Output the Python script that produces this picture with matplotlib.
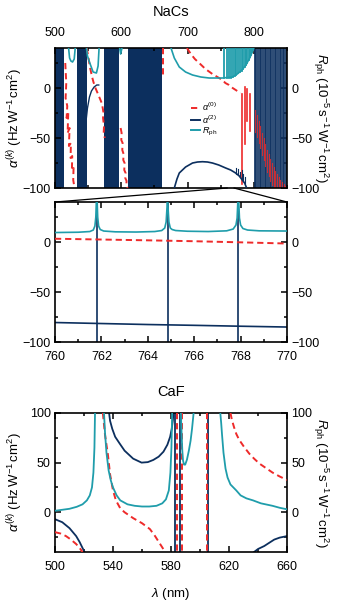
import matplotlib
matplotlib.use("Agg")
import matplotlib.pyplot as plt
from matplotlib.patches import ConnectionPatch
from matplotlib.ticker import MultipleLocator
from matplotlib.lines import Line2D

plt.rcParams["font.family"] = ["Liberation Sans", "DejaVu Sans"]
plt.rcParams["mathtext.fontset"] = "custom"
plt.rcParams["mathtext.rm"] = "Liberation Sans"
plt.rcParams["mathtext.it"] = "Liberation Sans:italic"
plt.rcParams["mathtext.bf"] = "Liberation Sans:bold"
plt.rcParams["axes.unicode_minus"] = True

RED = "#ee2a2a"
NAVY = "#0c2f5e"
TEAL = "#1f9dab"
DASH = (3.2, 2.0)

# ---------------- NaCs overview, 500-850 nm ----------------
nacs_a2_blocks = [(500, 513), (533, 548), (574, 597), (610, 662)]
nacs_a2_arc_x = [547, 549, 552, 555, 559, 563, 566]
nacs_a2_arc_y = [-32, -20, -9, -3, 1, 3, 3]
nacs_a2_low_x = [680, 684, 687.5, 697, 707.5, 715, 722.5, 730, 737.5, 747, 757.5, 765, 772.5, 778, 782.5, 786, 788.5]
nacs_a2_low_y = [-100, -91, -85, -79, -75, -74, -73.7, -74, -75, -77, -80, -82, -85, -88, -92, -95, -99]
nacs_a2_spike_x = [773.6, 776.3, 778.9, 781.4, 783.8, 786.1]
nacs_a2_spike_base = [-85.5, -87, -89, -91, -93, -95]
nacs_a2_spike_top = [-80, -81, -84, -82, -86, -89]
nacs_stripes = [801.2, 803.7, 806.2, 808.7, 811.2, 813.7, 816.2, 818.7, 821.2, 823.7,
                826.2, 828.7, 831.2, 833.7, 836.2, 838.7, 841.2, 843.7, 846.2, 848.7]

nacs_a0_g1_x = [515.5, 517, 516, 518.5, 517.5, 520, 519, 522, 521, 524, 523.5, 526, 525.5, 528, 527.5, 529.5]
nacs_a0_g1_y = [25, 5, -10, -18, -30, -25, -45, -40, -58, -55, -70, -68, -82, -80, -92, -100]
nacs_a0_g2_x = [548, 551, 553, 556, 558, 561, 565.5, 568, 570.5, 572, 573, 572.5, 574, 573.5, 575]
nacs_a0_g2_y = [40, 28, 20, 11, 6, 0, -7, -11, -15, -20, -24, -30, -38, -44, -50]
nacs_a0_g3_x = [599, 600.5, 600, 602, 601.5, 603.5, 603, 605, 604.5, 606.5, 606, 608, 607.5, 609.5]
nacs_a0_g3_y = [-40, -45, -52, -55, -62, -66, -72, -75, -82, -85, -90, -93, -97, -100]
nacs_a0_662_x = [662.5, 662.5]
nacs_a0_662_y = [40, 12]
nacs_a0_x = [699, 705, 711, 717.5, 727, 737.5, 745, 752.5, 757, 762.5, 768, 775, 780]
nacs_a0_y = [40, 34, 29, 25, 19, 14, 11, 8, 5, 3, 0, -3, -5]
nacs_a0_spike_x = [782.5, 786, 790, 794]
nacs_a0_spike_top = [-6, 1, -1, -6]
nacs_a0_spike_bot = [-96, -56, -33, -43]
nacs_a0_gap_x = [802.4, 804.9, 807.4, 809.9, 812.4, 814.9, 817.4, 819.9, 822.4, 824.9,
                 827.4, 829.9, 832.4, 834.9, 837.4, 839.9, 842.4, 844.9, 847.4]
nacs_a0_gap_top = [-22, -27, -33, -38, -45, -50, -56, -62, -66, -71, -75, -79, -83, -86, -89, -92, -94, -96, -98]

nacs_rph_g1_x = [520.5, 522, 524, 526.5, 529, 530.5]
nacs_rph_g1_y = [40, 30, 27, 26, 29, 40]
nacs_rph_g2_x = [547.5, 549, 552.5, 557.5, 562.5, 565, 566.5]
nacs_rph_g2_y = [40, 32, 25, 16, 15, 22, 40]
nacs_rph_g3_x = [597.5, 599, 601]
nacs_rph_g3_y = [40, 34, 40]
nacs_rph_x = [675, 680, 687.5, 697, 707.5, 720, 732.5, 745, 752.5, 760, 767.5, 775, 782, 788, 793, 797, 800]
nacs_rph_y = [40, 30, 21, 16, 13, 11, 10, 10, 10, 10.5, 11, 14, 18, 23, 29, 35, 40]
nacs_rph_spike_x = [755.7, 758.8, 761.8, 764.85, 767.9, 770.8, 773.6, 776.3, 778.9, 781.4,
                    783.8, 786.1, 788.3, 790.4, 792.4, 794.3, 796.1, 797.8, 799.4]
nacs_rph_spike_base = [10, 10.5, 10.5, 10.5, 11, 12, 13, 15, 16, 17,
                       19, 21, 23, 25, 28, 31, 33, 36, 38]

# ---------------- NaCs zoom, 760-770 nm ----------------
zoom_res = [761.8, 764.85, 767.9]
zoom_a0_x = [760, 762, 764, 766, 768, 770]
zoom_a0_y = [3.3, 2.5, 1.7, 0.8, -0.3, -1.5]
zoom_a2_x = [760, 762, 764, 766, 768, 770]
zoom_a2_y = [-80.5, -81.5, -82.5, -83.3, -84.2, -85]
zoom_rph_x = [760, 761.0, 761.5, 761.65, 761.72, 761.76, 761.79, 761.8, 761.81, 761.84, 761.88, 761.95, 762.1, 762.6,
              763.5, 764.3, 764.6, 764.73, 764.79, 764.83, 764.85, 764.87, 764.91, 764.97, 765.05, 765.2, 765.7,
              766.6, 767.4, 767.68, 767.8, 767.85, 767.88, 767.9, 767.92, 767.95, 768.0, 768.1, 768.3, 768.8, 770]
zoom_rph_y = [9.5, 9.8, 10.5, 12, 16, 25, 45, 60, 45, 25, 16, 12.5, 11, 10.2,
              10.0, 10.5, 11.5, 14, 20, 35, 60, 35, 20, 14, 12.5, 11.5, 10.8,
              10.5, 11.2, 13, 17, 24, 40, 60, 40, 24, 17, 13.5, 12, 11.2, 11]

# ---------------- CaF, 500-660 nm ----------------
caf_rph_a_x = [500, 505, 510, 515, 519, 522, 524, 525.5, 526.5, 527.2, 527.6]
caf_rph_a_y = [1.5, 2.5, 3.5, 5.5, 8, 12, 17, 25, 40, 65, 100]
caf_rph_b_x = [533.8, 534.5, 535.5, 537, 538.5, 540, 542.5, 545, 550, 555, 560, 565, 570, 574, 576.5, 578.5, 579.6, 580.3, 580.8]
caf_rph_b_y = [100, 80, 60, 42, 32, 25, 17, 12, 8, 6.5, 5.8, 5.8, 6.5, 9, 13, 22, 40, 65, 100]
caf_rph_c_x = [586.8, 587.3, 587.8, 588.3, 589, 589.8, 591, 592.3, 593.5, 594.5, 595.6]
caf_rph_c_y = [100, 80, 62, 52, 48, 48, 53, 62, 72, 84, 100]
caf_rph_d_x = [614, 614.6, 615.2, 616.2, 617.6, 619, 621, 625, 628, 632, 636.5, 642, 650, 655, 660]
caf_rph_d_y = [100, 90, 78, 60, 44, 35, 28, 22, 17, 14, 12, 9, 6.5, 4.5, 3]

caf_a2_a_x = [500, 505, 510, 514.6, 517, 519, 520.4]
caf_a2_a_y = [-7, -10, -16, -24, -30, -36, -40]
caf_a2_b_x = [537.3, 538, 539.5, 541.5, 544.7, 548, 553.9, 559.7, 564, 567.8, 571.5, 574.8, 577.5, 579.4, 580.5, 581.3, 581.7]
caf_a2_b_y = [100, 92, 84, 76, 69, 62, 54, 50, 50.5, 52.7, 56, 61, 68, 76, 84, 93, 100]
caf_a2_c_x = [637.3, 640, 644.3, 648, 651.2, 655, 660]
caf_a2_c_y = [-40, -37, -34, -30.5, -27.5, -25.5, -24]
caf_a2_res = [582.8, 586.3, 605.2]

caf_a0_a_x = [500, 504, 507.6, 511, 514.6, 517, 519]
caf_a0_a_y = [-20, -21.5, -24, -27.5, -32, -36, -40]
caf_a0_b_x = [533, 534.5, 536.5, 538, 540, 542, 545, 548, 554, 560, 565.5, 569, 572.5, 576]
caf_a0_b_y = [100, 78, 58, 38, 22, 12, 4, 0, -6, -11, -17, -24, -32, -40]
caf_a0_c_x = [621, 622, 623.4, 625, 627, 630.3, 634, 637.3, 641, 646, 650, 655, 660]
caf_a0_c_y = [100, 93, 86, 79, 73, 66, 59, 54, 49, 44, 40, 36, 32.5]
caf_a0_res = [584.0, 587.4, 604.6]
caf_xticks = [500, 540, 580, 620, 660]

fig = plt.figure(figsize=(3.42, 6.10), dpi=100)
ax1 = fig.add_axes([0.1608, 0.6918, 0.6784, 0.2295])
ax2 = fig.add_axes([0.1608, 0.4393, 0.6784, 0.2295])
ax3 = fig.add_axes([0.1608, 0.0951, 0.6784, 0.2279])


def red(ax, x, y, **kw):
    ax.plot(x, y, color=RED, lw=1.4, dashes=DASH, **kw)


def style(ax, xmaj, xmin, ymaj, ymin):
    ax.xaxis.set_major_locator(MultipleLocator(xmaj))
    ax.xaxis.set_minor_locator(MultipleLocator(xmin))
    ax.yaxis.set_major_locator(MultipleLocator(ymaj))
    ax.yaxis.set_minor_locator(MultipleLocator(ymin))
    ax.tick_params(which="both", direction="in", top=True, right=True, labelsize=9, width=1.1)
    ax.tick_params(which="major", length=4)
    ax.tick_params(which="minor", length=2.5)
    ax.tick_params(axis="x", pad=6.5)
    ax.tick_params(axis="y", pad=3, labelright=True)
    for s in ax.spines.values():
        s.set_linewidth(1.2)


ylab_l = r"$\alpha^{(k)}$ (Hz$\,$W$^{-1}\,$cm$^2$)"
ylab_r = r"$R_{\rm ph}$ (10$^{-5}\,$s$^{-1}\,$W$^{-1}\,$cm$^2$)"


def labels(ax):
    ax.set_ylabel(ylab_l, fontsize=9.5)
    ax.yaxis.set_label_coords(-0.13, 0.5)
    ax.text(1.145, 0.5, ylab_r, transform=ax.transAxes, rotation=270,
            ha="center", va="center", fontsize=9.5)


# ---- panel 1 ----
for a, b in nacs_a2_blocks:
    ax1.axvspan(a, b, color=NAVY, lw=0, zorder=1)
ax1.axvspan(800, 850, color="#b9c9de", lw=0, zorder=0.5)
ax1.vlines(nacs_stripes, -100, 40, color=NAVY, lw=1.15, zorder=2)
for x, top in zip(nacs_a0_gap_x, nacs_a0_gap_top):
    ax1.plot([x, x], [top, max(top - 22, -100)], color=RED, lw=0.8, alpha=0.8, zorder=2.5)

red(ax1, nacs_a0_g1_x, nacs_a0_g1_y, zorder=3)
red(ax1, nacs_a0_g2_x, nacs_a0_g2_y, zorder=3)
red(ax1, nacs_a0_g3_x, nacs_a0_g3_y, zorder=3)
red(ax1, nacs_a0_662_x, nacs_a0_662_y, zorder=3)
red(ax1, nacs_a0_x, nacs_a0_y, zorder=3)
for x, t, b in zip(nacs_a0_spike_x, nacs_a0_spike_top, nacs_a0_spike_bot):
    ax1.plot([x, x], [t, b], color=RED, lw=1.2, zorder=3)

ax1.plot(nacs_a2_arc_x, nacs_a2_arc_y, color=NAVY, lw=1.0, zorder=3)
ax1.plot(nacs_a2_low_x, nacs_a2_low_y, color=NAVY, lw=1.2, zorder=3)
for x, b, t in zip(nacs_a2_spike_x, nacs_a2_spike_base, nacs_a2_spike_top):
    ax1.plot([x, x], [b, t], color=NAVY, lw=0.8, zorder=3)

for xs, ys in [(nacs_rph_g1_x, nacs_rph_g1_y), (nacs_rph_g2_x, nacs_rph_g2_y),
               (nacs_rph_g3_x, nacs_rph_g3_y), (nacs_rph_x, nacs_rph_y)]:
    ax1.plot(xs, ys, color=TEAL, lw=1.2, zorder=4)
for x, b in zip(nacs_rph_spike_x, nacs_rph_spike_base):
    ax1.plot([x, x], [b, 40], color=TEAL, lw=1.3, zorder=4)

ax1.set_xlim(500, 850)
ax1.set_ylim(-100, 40)
style(ax1, 100, 50, 50, 25)
ax1.tick_params(labeltop=True, labelbottom=False)
labels(ax1)

handles = [Line2D([], [], color=RED, lw=1.4, dashes=DASH),
           Line2D([], [], color=NAVY, lw=1.4),
           Line2D([], [], color=TEAL, lw=1.4)]
ax1.legend(handles, [r"$\alpha^{(0)}$", r"$\alpha^{(2)}$", r"$R_{\rm ph}$"],
           loc="upper left", bbox_to_anchor=(0.565, 0.655), frameon=False, fontsize=6.5,
           handlelength=1.0, handletextpad=0.3, labelspacing=0.0, borderpad=0)

# ---- panel 2 ----
ax2.vlines(zoom_res, -100, 40, color=NAVY, lw=1.2, zorder=2)
ax2.plot(zoom_a2_x, zoom_a2_y, color=NAVY, lw=1.2, zorder=2)
red(ax2, zoom_a0_x, zoom_a0_y, zorder=3)
ax2.plot(zoom_rph_x, zoom_rph_y, color=TEAL, lw=1.2, zorder=4)
ax2.set_xlim(760, 770)
ax2.set_ylim(-100, 40)
style(ax2, 2, 1, 50, 25)

for xyA, xyB in [((760, -100), (0, 1)), ((770, -100), (1, 1))]:
    con = ConnectionPatch(xyA=xyA, coordsA=ax1.transData, xyB=xyB, coordsB=ax2.transAxes,
                          color="black", lw=0.9)
    fig.add_artist(con)

# ---- panel 3 ----
for xs, ys in [(caf_a2_a_x, caf_a2_a_y), (caf_a2_b_x, caf_a2_b_y), (caf_a2_c_x, caf_a2_c_y)]:
    ax3.plot(xs, ys, color=NAVY, lw=1.3, zorder=2)
ax3.vlines(caf_a2_res, -40, 100, color=NAVY, lw=1.3, zorder=2)
for xs, ys in [(caf_a0_a_x, caf_a0_a_y), (caf_a0_b_x, caf_a0_b_y), (caf_a0_c_x, caf_a0_c_y)]:
    red(ax3, xs, ys, zorder=3)
for x in caf_a0_res:
    red(ax3, [x, x], [100, -40], zorder=3)
for xs, ys in [(caf_rph_a_x, caf_rph_a_y), (caf_rph_b_x, caf_rph_b_y),
               (caf_rph_c_x, caf_rph_c_y), (caf_rph_d_x, caf_rph_d_y)]:
    ax3.plot(xs, ys, color=TEAL, lw=1.3, zorder=4)
ax3.set_xlim(500, 660)
ax3.set_ylim(-40, 100)
style(ax3, 40, 20, 50, 25)
ax3.set_xticks(caf_xticks)
labels(ax3)
ax3.set_xlabel(r"$\lambda$ (nm)", fontsize=9.5, labelpad=9)

fig.text(0.5, 0.981, "NaCs", ha="center", va="center", fontsize=10.5)
fig.text(0.5, 0.357, "CaF", ha="center", va="center", fontsize=10.5)

fig.savefig("out.png", dpi=100)
